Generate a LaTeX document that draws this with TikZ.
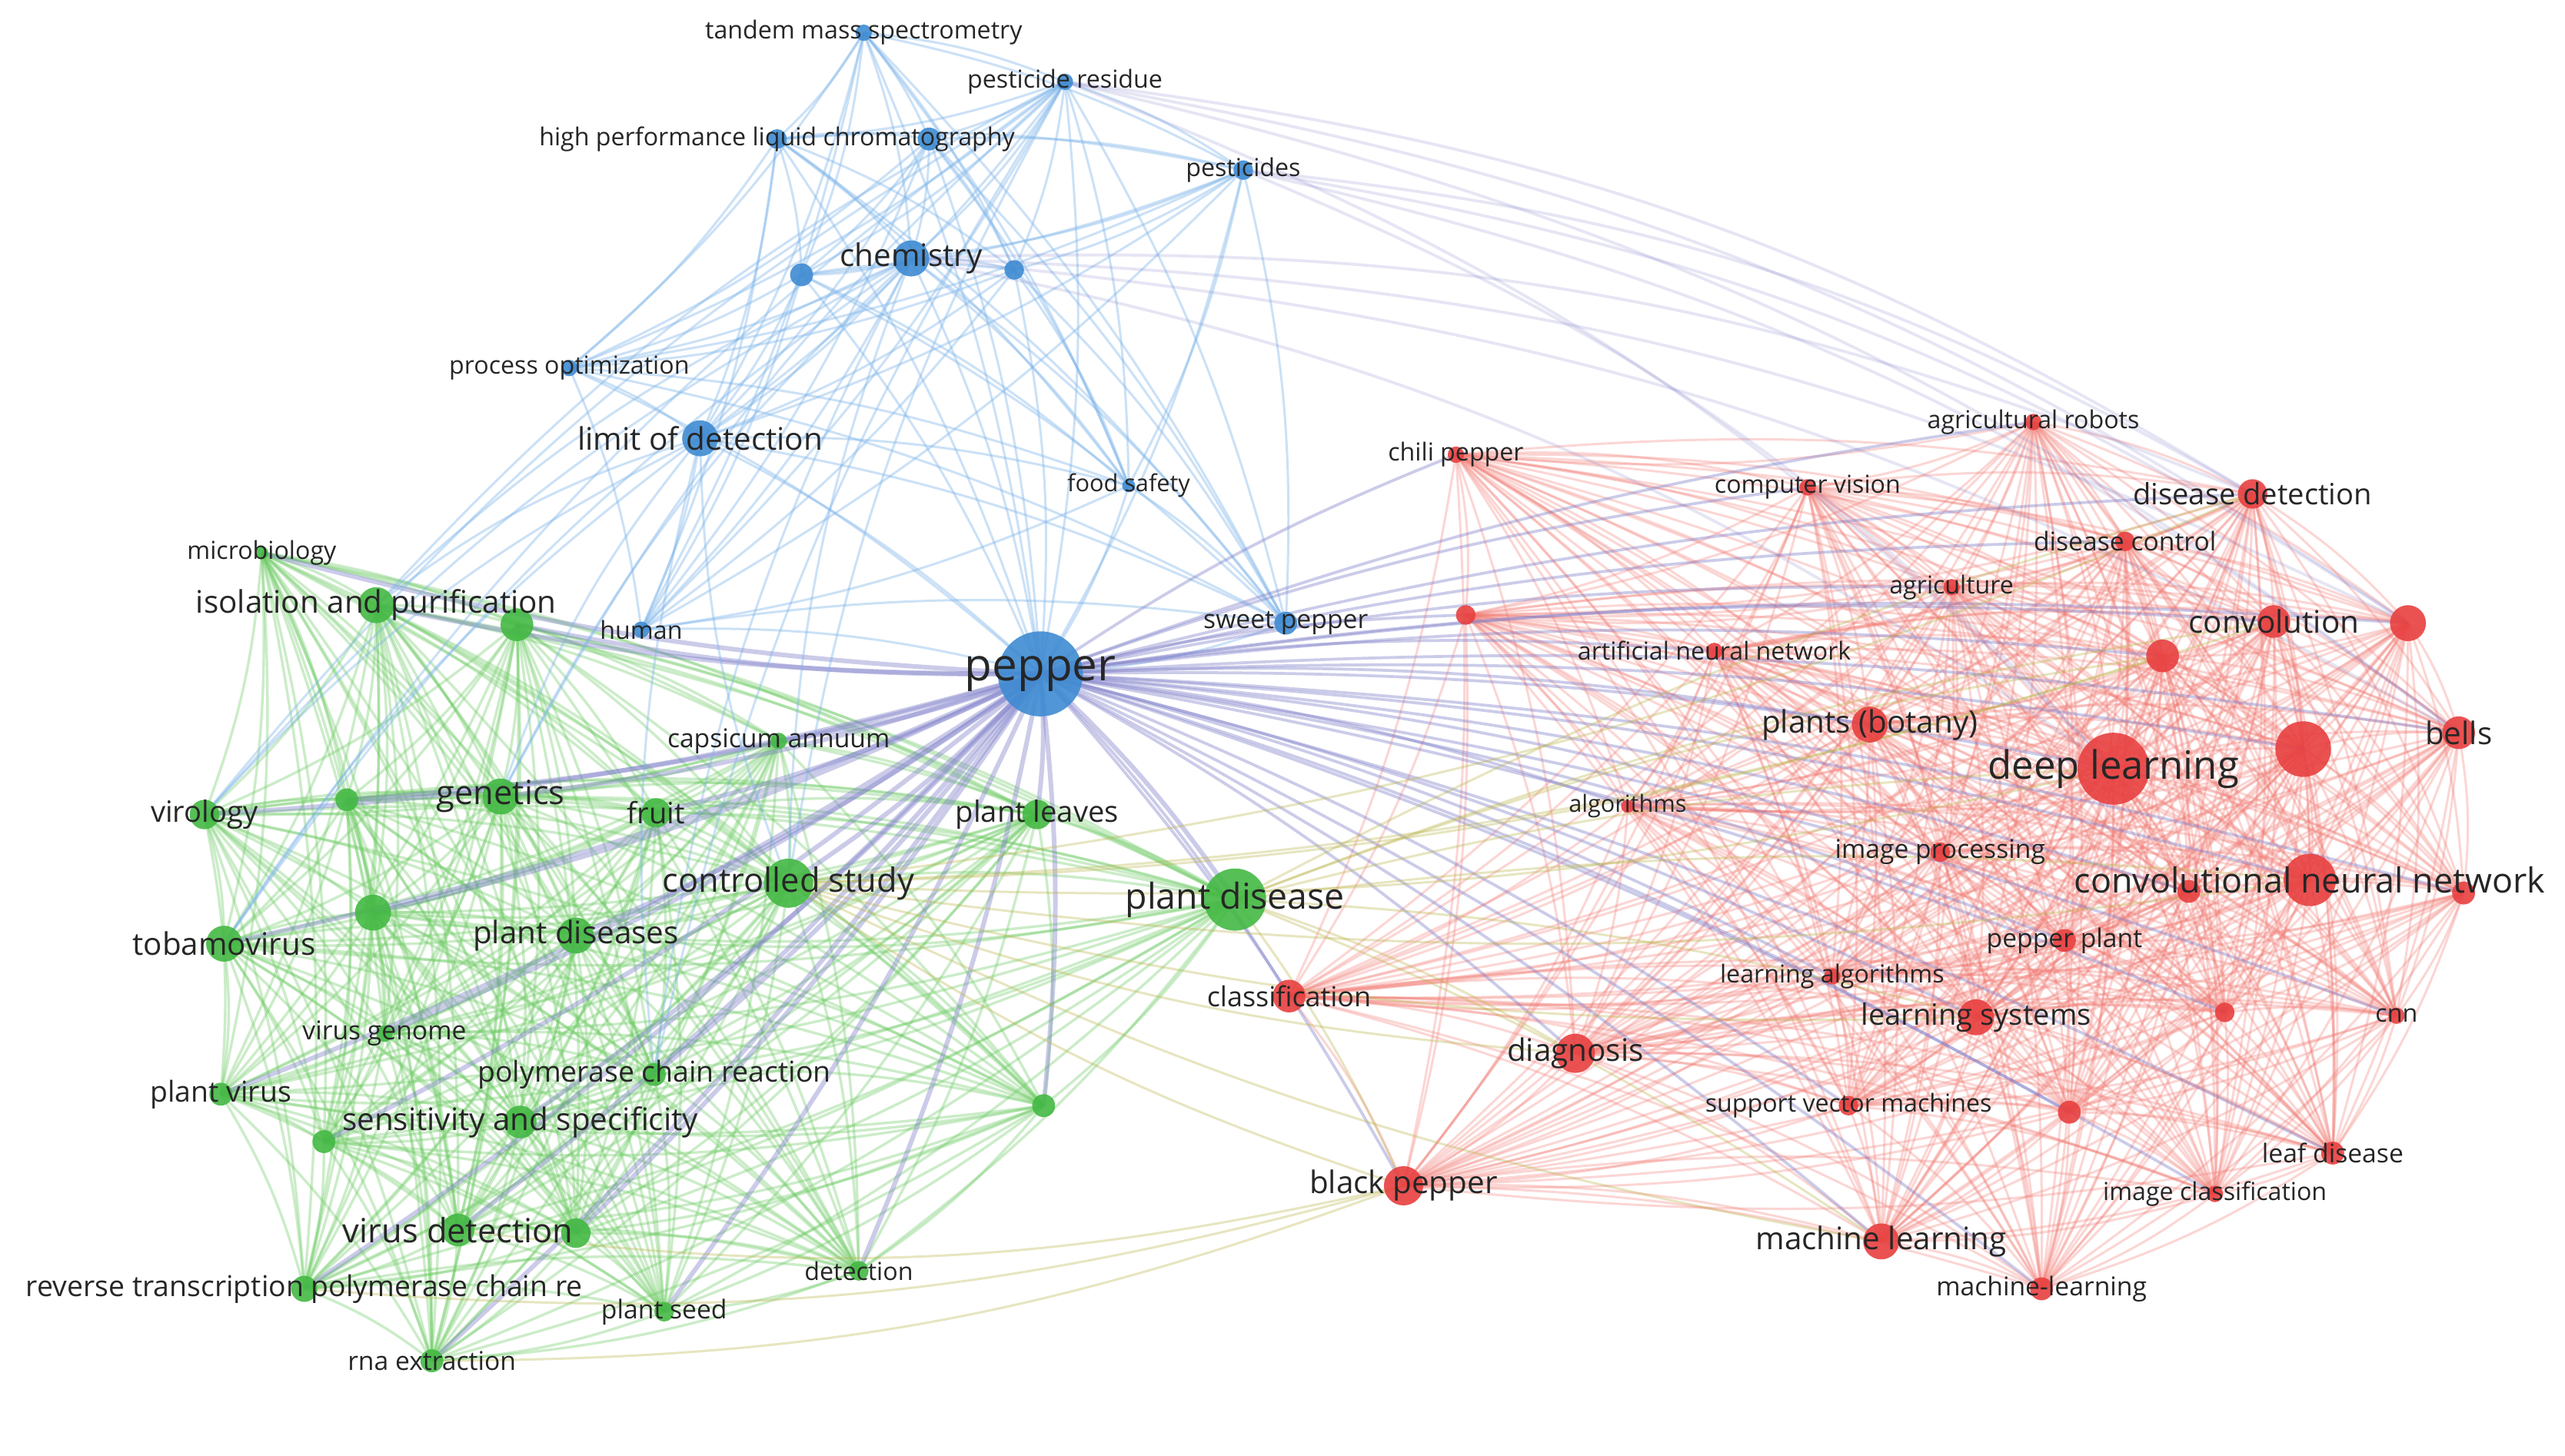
\documentclass[tikz,border=0pt]{standalone}
\usepackage{fontspec}
\setmainfont{Open Sans}
\definecolor{bnode}{HTML}{3F8BD2}
\definecolor{gnode}{HTML}{44B944}
\definecolor{rnode}{HTML}{E84040}
\definecolor{bedge}{HTML}{7DB4EA}
\definecolor{gedge}{HTML}{6CCB62}
\definecolor{redge}{HTML}{F27A72}
\begin{document}
\begin{tikzpicture}[x=0.01cm,y=-0.01cm,
  be/.style={draw=bedge,opacity=0.4,line width=0.4pt},
  ge/.style={draw=gedge,opacity=0.35,line width=0.45pt},
  re/.style={draw=redge,opacity=0.3,line width=0.4pt},
  xe/.style={draw=bedge!70!violet,opacity=0.4,line width=0.5pt},
  oe/.style={draw=olive!60!white,opacity=0.35,line width=0.4pt},
  lab/.style={text=black!85,inner sep=0pt}]
\fill[white] (0,0) rectangle (1568,890);
\useasboundingbox (0,0) rectangle (1568,890);
\def\bluelist{b1/528/20/5/tandem mass spectrometry/4.3, b2/651/50/5/pesticide residue/4.3, b3/475/85/6/high performance liquid chromatography/4.3, b4/568/85/7//4.3, b5/760/104/6/pesticides/4.3, b6/557/158/11/chemistry/5.4, b7/490/168/7//4.3, b8/620/165/6//4.3, b9/348/225/5/process optimization/4.3, b10/428/268/11/limit of detection/5.4, b11/690/297/4/food safety/4.1, b12/392/385/5/human/4.3, b13/786/381/7/sweet pepper/4.5, b14/636/412/26/pepper/7.8}
\def\greenlist{g1/160/338/4/microbiology/4.3, g2/230/370/11/isolation and purification/5.4, g3/316/382/10//4.3, g4/476/453/5/capsicum annuum/4.5, g5/125/498/9/virology/5.1, g6/212/489/7//4.3, g7/306/487/11/genetics/5.8, g8/401/497/9/fruit/5.1, g9/634/498/9/plant leaves/5.1, g10/482/540/15/controlled study/5.8, g11/755/550/19/plant disease/6.2, g12/137/577/11/tobamovirus/5.4, g13/228/558/11//4.3, g14/352/572/11/plant diseases/5.4, g15/235/632/5/virus genome/4.5, g16/400/657/7/polymerase chain reaction/5.0, g17/638/676/7//4.3, g18/135/669/7/plant virus/5.0, g19/318/686/10/sensitivity and specificity/5.4, g20/198/698/7//4.3, g21/280/752/10/virus detection/5.8, g22/352/754/9//4.3, g23/186/788/8/reverse transcription polymerase chain re/5.0, g24/525/777/6/detection/4.3, g25/406/802/6/plant seed/4.5, g26/264/832/7/rna extraction/4.5}
\def\redlist{r1/1243/258/5/agricultural robots/4.3, r2/890/278/5/chili pepper/4.3, r3/1105/298/5/computer vision/4.3, r4/1377/302/9/disease detection/5.1, r5/1299/331/6/disease control/4.5, r6/1193/359/5/agriculture/4.3, r7/896/376/6//4.3, r8/1048/398/5/artificial neural network/4.3, r9/1390/380/10/convolution/5.4, r10/1472/381/11//4.3, r11/1322/401/10//4.3, r12/1143/443/11/plants (botany)/5.4, r13/1292/470/22/deep learning/6.8, r14/1408/458/17//4.3, r15/1503/448/10/bells/5.4, r16/995/493/4/algorithms/4.1, r17/1186/521/6/image processing/4.5, r18/1412/538/16/convolutional neural network/6.0, r19/1338/545/7//4.3, r20/1506/546/7//4.3, r21/1262/575/7/pepper plant/4.5, r22/1120/597/5/learning algorithms/4.3, r23/788/609/10/classification/4.8, r24/963/644/12/diagnosis/5.4, r25/1208/622/11/learning systems/5.1, r26/1360/619/6//4.3, r27/1465/621/5/cnn/4.3, r28/1130/676/6/support vector machines/4.3, r29/1265/680/7//4.3, r30/1426/705/7/leaf disease/4.5, r31/858/725/12/black pepper/5.4, r32/1354/730/5/image classification/4.3, r33/1150/759/11/machine learning/5.4, r34/1248/788/7/machine-learning/4.5}
\foreach \n/\x/\y/\r/\l/\s in \bluelist {\coordinate (\n) at (\x,\y);}
\foreach \n/\x/\y/\r/\l/\s in \greenlist {\coordinate (\n) at (\x,\y);}
\foreach \n/\x/\y/\r/\l/\s in \redlist {\coordinate (\n) at (\x,\y);}
% edges
\foreach \i in {1,...,13}{\foreach \j in {\i,...,14}{\ifnum\i<\j \draw[be] (b\i) to[bend left=8] (b\j);\fi}}
\foreach \i in {1,...,25}{\foreach \j in {\i,...,26}{\ifnum\i<\j \draw[ge] (g\i) to[bend left=8] (g\j);\fi}}
\foreach \i in {1,...,33}{\foreach \j in {\i,...,34}{\ifnum\i<\j \draw[re] (r\i) to[bend left=8] (r\j);\fi}}
\foreach \j in {1,...,26}{\draw[xe,line width=0.8pt] (b14) to[bend left=6] (g\j);}
\foreach \j in {1,...,34}{\draw[xe] (b14) to[bend left=6] (r\j);}
\foreach \j in {2,6,10}{\foreach \k in {2,5,7,10,12,16}{\draw[be] (b\j) to[bend right=10] (g\k);}}
\foreach \j in {4,9,11,13,18,24,25,31,33}{\draw[oe] (g11) to[bend left=6] (r\j);\draw[oe] (g10) to[bend right=8] (r\j);}
\foreach \j in {2,5,6}{\foreach \k in {10,13,15,4}{\draw[xe,opacity=0.2] (b\j) to[bend left=12] (r\k);}}
\foreach \k in {21,23,26}{\draw[oe] (r31) to[bend left=10] (g\k);}
% nodes
\foreach \n/\x/\y/\r/\l/\s in \bluelist {\fill[bnode,opacity=0.9] (\n) circle (\r);}
\foreach \n/\x/\y/\r/\l/\s in \greenlist {\fill[gnode,opacity=0.9] (\n) circle (\r);}
\foreach \n/\x/\y/\r/\l/\s in \redlist {\fill[rnode,opacity=0.9] (\n) circle (\r);}
\foreach \n/\x/\y/\r/\l/\s in \bluelist {\node[lab,font=\fontsize{\s}{\s}\selectfont] at (\n) {\l};}
\foreach \n/\x/\y/\r/\l/\s in \greenlist {\node[lab,font=\fontsize{\s}{\s}\selectfont] at (\n) {\l};}
\foreach \n/\x/\y/\r/\l/\s in \redlist {\node[lab,font=\fontsize{\s}{\s}\selectfont] at (\n) {\l};}
\end{tikzpicture}
\end{document}
